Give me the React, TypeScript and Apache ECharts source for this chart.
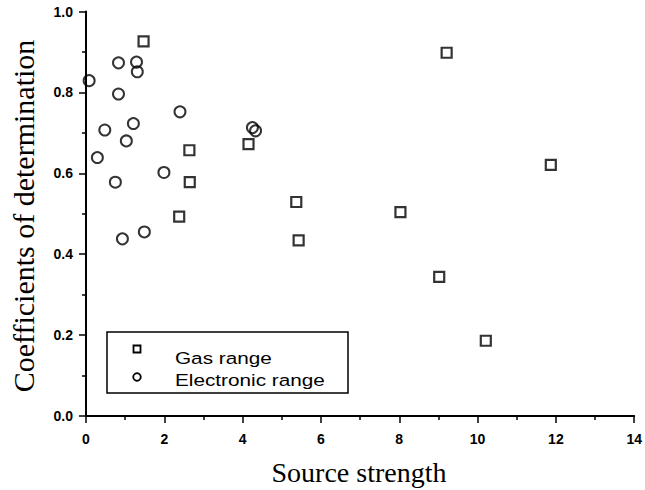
import React, { useEffect, useRef } from "react";
import * as echarts from "echarts";

// Gas range (squares)
const gasX = [1.47, 2.64, 4.15, 2.65, 2.38, 11.87, 5.37, 8.03, 5.43, 9.02, 10.21, 9.21];
const gasY = [0.926, 0.657, 0.672, 0.578, 0.493, 0.621, 0.529, 0.504, 0.434, 0.344, 0.186, 0.898];

// Electronic range (circles)
const elecX = [0.08, 0.83, 1.29, 1.31, 0.83, 2.40, 4.25, 4.33, 0.48, 1.21, 1.03, 0.29, 0.75, 1.99, 0.93, 1.49];
const elecY = [0.829, 0.873, 0.875, 0.851, 0.796, 0.752, 0.713, 0.705, 0.707, 0.723, 0.680, 0.639, 0.578, 0.602, 0.438, 0.455];

const seriesNames = ["Gas range", "Electronic range"];
const xTitle = "Source strength";
const yTitle = "Coefficients of determination";

export default function App() {
  const ref = useRef<HTMLDivElement>(null);
  useEffect(() => {
    document.body.style.margin = "0";
    if (!ref.current) return;
    const chart = echarts.init(ref.current, undefined, { renderer: "svg" });
    const tickFont = {
      fontFamily: "Liberation Sans",
      fontWeight: "bold" as const,
      fontSize: 14,
      color: "#000",
    };
    chart.setOption({
      animation: false,
      backgroundColor: "#fff",
      grid: { left: 86, right: 9, top: 11.5, bottom: 74, containLabel: false },
      xAxis: {
        type: "value",
        min: 0,
        max: 14,
        interval: 2,
        axisLine: { show: true, lineStyle: { color: "#000", width: 2 } },
        axisTick: { show: true, length: 7, lineStyle: { color: "#000", width: 1.5 } },
        minorTick: { show: true, splitNumber: 2, length: 4, lineStyle: { color: "#000", width: 1.5 } },
        splitLine: { show: false },
        axisLabel: { ...tickFont, margin: 16 },
      },
      yAxis: {
        type: "value",
        min: 0,
        max: 1,
        interval: 0.2,
        axisLine: { show: true, lineStyle: { color: "#000", width: 2 } },
        axisTick: { show: true, length: 7, lineStyle: { color: "#000", width: 1.5 } },
        minorTick: { show: true, splitNumber: 2, length: 4, lineStyle: { color: "#000", width: 1.5 } },
        splitLine: { show: false },
        axisLabel: { ...tickFont, margin: 13, formatter: (v: number) => v.toFixed(1) },
      },
      series: [
        {
          name: seriesNames[0],
          type: "scatter",
          symbol: "rect",
          symbolSize: 10,
          itemStyle: { color: "rgba(0,0,0,0)", borderColor: "#000", borderWidth: 2.2 },
          data: gasX.map((x, i) => [x, gasY[i]]),
        },
        {
          name: seriesNames[1],
          type: "scatter",
          symbol: "circle",
          symbolSize: 11,
          itemStyle: { color: "rgba(0,0,0,0)", borderColor: "#000", borderWidth: 2 },
          data: elecX.map((x, i) => [x, elecY[i]]),
        },
      ],
      graphic: [
        {
          type: "rect",
          shape: { x: 107, y: 332, width: 241, height: 61 },
          style: { fill: "#fff", stroke: "#000", lineWidth: 1.5 },
          z: 10,
        },
        {
          type: "rect",
          shape: { x: 133.5, y: 345.5, width: 7, height: 7 },
          style: { fill: "none", stroke: "#000", lineWidth: 1.8 },
          z: 11,
        },
        {
          type: "circle",
          shape: { cx: 137, cy: 377, r: 3.8 },
          style: { fill: "none", stroke: "#000", lineWidth: 1.8 },
          z: 11,
        },
        {
          type: "text",
          x: 175,
          y: 358,
          scaleX: 1.22,
          style: {
            text: seriesNames[0],
            fontFamily: "Liberation Sans",
            fontSize: 17,
            fill: "#000",
            verticalAlign: "middle",
          },
          z: 11,
        },
        {
          type: "text",
          x: 175,
          y: 380,
          scaleX: 1.22,
          style: {
            text: seriesNames[1],
            fontFamily: "Liberation Sans",
            fontSize: 17,
            fill: "#000",
            verticalAlign: "middle",
          },
          z: 11,
        },
        {
          type: "text",
          x: 359,
          y: 472,
          style: {
            text: xTitle,
            fontFamily: "Liberation Serif",
            fontSize: 28,
            fill: "#000",
            align: "center",
            verticalAlign: "middle",
          },
        },
        {
          type: "text",
          x: 23,
          y: 216,
          rotation: Math.PI / 2,
          style: {
            text: yTitle,
            fontFamily: "Liberation Serif",
            fontSize: 30,
            fill: "#000",
            align: "center",
            verticalAlign: "middle",
          },
        },
      ],
    });
    return () => chart.dispose();
  }, []);
  return <div ref={ref} style={{ width: 645, height: 490 }} />;
}
